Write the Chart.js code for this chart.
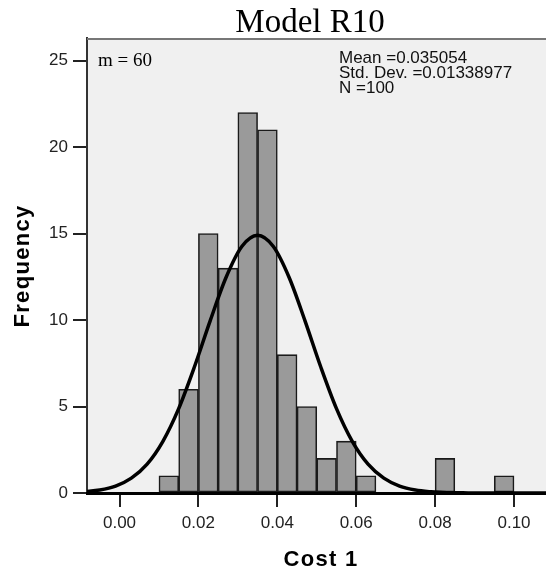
<!DOCTYPE html>
<html><head><meta charset="utf-8">
<script src="https://cdn.jsdelivr.net/npm/chart.js@4/dist/chart.umd.min.js"></script>
<style>html,body{margin:0;padding:0;background:#fff}#wrap{width:546px;height:572px}</style>
</head><body><div id="wrap"><canvas id="c" width="546" height="572"></canvas></div>
<script>
// ---- data ----
const chartTitle = 'Model R10';
const xTitle = 'Cost 1';
const yTitle = 'Frequency';
const binWidth = 0.005;
const binStarts = [0.010,0.015,0.020,0.025,0.030,0.035,0.040,0.045,0.050,0.055,0.060,0.065,0.070,0.075,0.080,0.085,0.090,0.095];
const binCounts = [1,6,15,13,22,21,8,5,2,3,1,0,0,0,2,0,0,1];
const curveX = [-0.009,-0.005,-0.001,0.003,0.007,0.011,0.015,0.019,0.023,0.027,0.031,0.035,0.039,0.043,0.047,0.051,0.055,0.059,0.063,0.067,0.071,0.075,0.079,0.083,0.087,0.091,0.095,0.099,0.103,0.107,0.111];
const curveY = [0.07,0.17,0.40,0.86,1.67,2.99,4.88,7.30,9.97,12.46,14.25,14.90,14.25,12.46,9.97,7.30,4.88,2.99,1.67,0.86,0.40,0.17,0.07,0.02,0.01,0,0,0,0,0,0];
const xTicks = [0.00,0.02,0.04,0.06,0.08,0.10];
const yTicks = [0,5,10,15,20,25];
const statLines = ['Mean =0.035054','Std. Dev. =0.01338977','N =100'];
const noteText = 'm = 60';

const SANS = '"Liberation Sans", Arial, sans-serif';
const SERIF = '"Liberation Serif", "Times New Roman", serif';

const decor = {
  id: 'decor',
  beforeDraw(chart) {
    const {ctx, chartArea: a} = chart;
    ctx.save();
    ctx.fillStyle = '#fff';
    ctx.fillRect(0, 0, chart.width, chart.height);
    ctx.fillStyle = '#f0f0f0';
    ctx.fillRect(a.left, a.top, a.right - a.left, a.bottom - a.top);
    ctx.restore();
  },
  afterDraw(chart) {
    const {ctx, chartArea: a} = chart;
    ctx.save();
    ctx.strokeStyle = '#777';
    ctx.lineWidth = 2;
    ctx.beginPath();
    ctx.moveTo(a.left, a.top + 1);
    ctx.lineTo(a.right, a.top + 1);
    ctx.stroke();
    ctx.fillStyle = '#000';
    ctx.textAlign = 'center';
    ctx.textBaseline = 'alphabetic';
    ctx.font = '33px ' + SERIF;
    ctx.fillText(chartTitle, 310, 32);
    ctx.textAlign = 'left';
    ctx.font = '19px ' + SERIF;
    ctx.fillText(noteText, 98, 66);
    ctx.fillStyle = '#111';
    ctx.font = '17px ' + SANS;
    statLines.forEach((t, i) => ctx.fillText(t, 339, 63 + i * 15));
    // axis titles
    ctx.fillStyle = '#000';
    ctx.font = 'bold 22px ' + SANS;
    if ('letterSpacing' in ctx) ctx.letterSpacing = '1.3px';
    ctx.textAlign = 'center';
    ctx.fillText(xTitle, 321, 566);
    ctx.translate(29, 266);
    ctx.rotate(-Math.PI / 2);
    ctx.fillText(yTitle, 0, 0);
    ctx.restore();
  }
};

new Chart(document.getElementById('c'), {
  type: 'bar',
  data: {
    datasets: [
      {
        type: 'line',
        data: curveX.map((x, i) => ({x, y: curveY[i]})),
        borderColor: '#000', borderWidth: 3.5, pointRadius: 0,
        cubicInterpolationMode: 'monotone', fill: false, order: 0
      },
      {
        type: 'bar',
        data: binStarts.map((s, i) => ({x: s + binWidth / 2, y: binCounts[i]})),
        backgroundColor: '#9a9a9a', borderColor: '#1a1a1a', borderWidth: 1.6,
        borderSkipped: false, barPercentage: 1, categoryPercentage: 1, order: 1
      }
    ]
  },
  options: {
    responsive: false, animation: false, devicePixelRatio: 1,
    layout: {padding: {top: 38, left: 0, right: 0, bottom: 0}},
    plugins: {legend: {display: false}, tooltip: {enabled: false}},
    scales: {
      x: {
        type: 'linear', min: -0.00824, max: 0.10811, offset: false,
        afterBuildTicks: s => { s.ticks = xTicks.map(v => ({value: v})); },
        afterFit: s => { s.height = 79; },
        grid: {drawOnChartArea: false, drawTicks: true, tickLength: 14, color: '#222', lineWidth: 2, offset: false},
        border: {color: '#000', width: 3, z: 1},
        ticks: {callback: v => Number(v).toFixed(2), font: {family: SANS, size: 17}, color: '#222', padding: 6, maxRotation: 0, autoSkip: false},
        title: {display: false}
      },
      y: {
        min: 0, max: 26.31,
        afterBuildTicks: s => { s.ticks = yTicks.map(v => ({value: v})); },
        afterFit: s => { s.width = 87; },
        grid: {drawOnChartArea: false, drawTicks: true, tickLength: 14, color: '#222', lineWidth: 2},
        border: {color: '#333', width: 2},
        ticks: {font: {family: SANS, size: 17}, color: '#222', padding: 5},
        title: {display: false}
      }
    }
  },
  plugins: [decor]
});
</script>
</body></html>
